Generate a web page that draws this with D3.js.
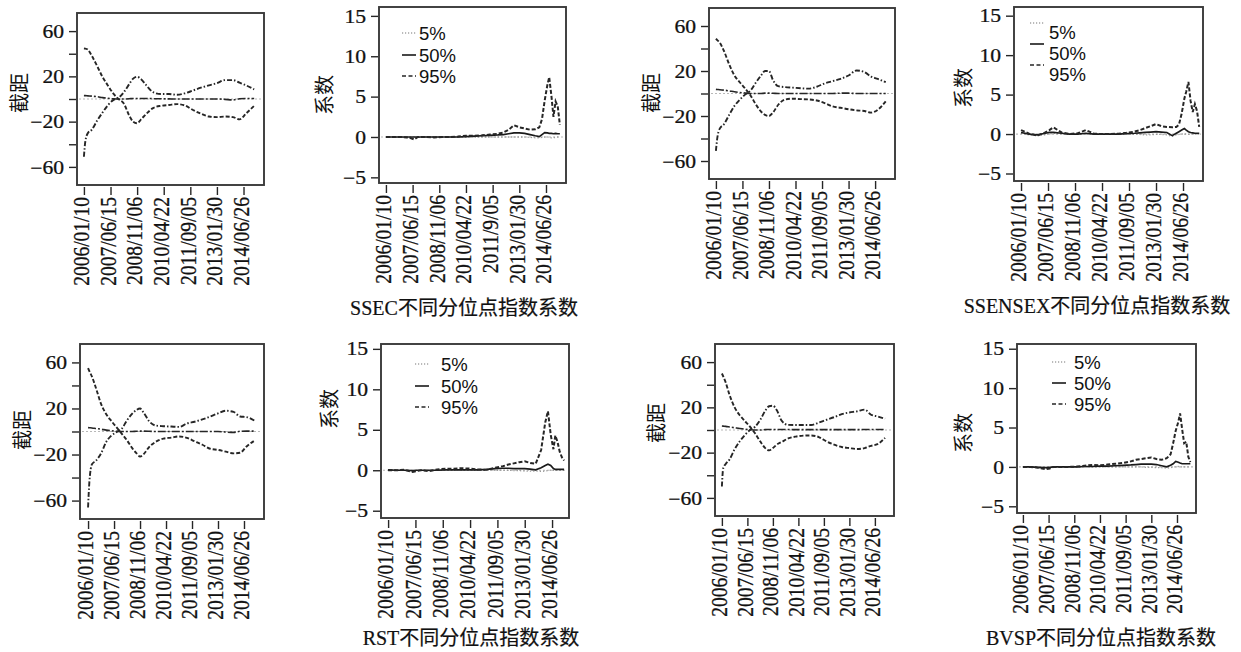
<!DOCTYPE html>
<html><head><meta charset="utf-8">
<script src="https://cdn.jsdelivr.net/npm/d3@7"></script>
<style>body{margin:0;background:#fff}svg{display:block}</style>
</head><body><svg id="c" width="1241" height="652"></svg>
<script>
// ---------- data ----------
const dateLabels = ["2006/01/10","2007/06/15","2008/11/06","2010/04/22","2011/09/05","2013/01/30","2014/06/26"];
const dateLabelsSSEC = ["2006/01/10","2007/06/15","2008/11/06","2010/04/22","2011/9/05","2013/01/30","2014/06/26"];
const interceptTicks = [60, 40, 20, 0, -20, -40, -60];
const interceptTickLabels = {"60":"60","20":"20","-20":"\u221220","-60":"\u221260"};
const coefTicks = [15, 10, 5, 0, -5];
const coefTickLabels = {"15":"15","10":"10","5":"5","0":"0","-5":"\u22125"};
const quantiles = ["5%", "50%", "95%"];
const titles = ["SSEC不同分位点指数系数","SSENSEX不同分位点指数系数","RST不同分位点指数系数","BVSP不同分位点指数系数"];
const yTitleI = "截距", yTitleC = "系数";

// sample positions, in units of the date-tick spacing
const tI = [0,0.05,0.15,0.3,0.5,0.7,0.9,1.1,1.3,1.5,1.7,1.85,2.0,2.15,2.35,2.6,2.9,3.2,3.5,3.8,4.1,4.4,4.7,5.0,5.3,5.6,5.85,6.1,6.4];
const tC = [0,0.3,0.6,0.9,1.05,1.2,1.5,1.8,2.1,2.4,2.7,3.0,3.3,3.6,3.9,4.2,4.4,4.6,4.8,5.0,5.2,5.4,5.6,5.75,5.85,5.95,6.05,6.12,6.2,6.28,6.36,6.44,6.52,6.6];

// intercepts
const ssecI95 = [44.6,44.5,43.5,38,29,19.5,12,5,0,-4,-14.5,-20,-21.4,-18,-13,-8,-6,-5.3,-4.5,-5.8,-9.7,-13,-15.5,-16,-15.5,-16,-18,-12.7,-6];
const ssecI5  = [-51,-38,-30,-27,-19,-12,-5.5,-1,1,6,13,18,19.6,17.5,12,6,4.4,4.4,3.7,5,7.5,10,12,14,16.7,16.7,14.4,12,8.5];
const ssecI50 = [3,3,2.8,2.5,2,1.2,0.6,0.2,0,0,0.2,0.5,0.5,0.5,0.5,0.3,0.2,0.1,0,0,0,0,0,0,-0.3,-0.8,0.2,0.5,0.5];
const sensexI95 = [48.7,47.5,45,38,26,16,10,4.5,-1.5,-9.5,-16,-19,-20,-17,-10,-5.5,-4.6,-5,-5.3,-6.2,-8.5,-11.5,-12.7,-14,-15,-15.6,-17,-14.5,-7];
const sensexI5  = [-51,-40,-31,-27.5,-19,-11,-5.5,-1,2.5,9.5,16,20,20,12,6.5,5.7,5.2,4.7,4.3,6,9,11,13,16,20.5,19,15,13,10];
const sensexI50 = [3.7,3.6,3.4,3,2.3,1.5,0.9,0.4,0,0,0,0.3,0.3,0.2,0,0,0,0,0,0,0,0,0.3,0.3,0,0,0,0,0];
const rstI95 = [55,52.5,47.7,38,24,15,9,3.5,-2,-7.7,-14.5,-18.5,-21.7,-19.4,-13.5,-9,-6.2,-5.3,-4.3,-5.5,-8.5,-11.5,-15,-16,-17.5,-19,-18.5,-13,-8];
const rstI5  = [-66,-44,-28.5,-25.5,-19,-9,-3.5,-0.5,2.5,9.8,15.5,18.5,20,16,9,5.2,4.6,4.3,4,6.9,8.5,10.5,13,15.7,18,17,13,12.5,9.5];
const rstI50 = [3.4,3.3,3.1,2.6,2,1.2,0.6,0.2,0,0,0,0.2,0.3,0.3,0.2,0,0,0,0,0,0,0,0,0,-0.5,-0.8,0.2,0.3,0.3];
const bvspI95 = [49.9,47.5,42,31,20,13,8,2.9,-2.9,-10,-16,-18,-16,-13,-10.5,-7.5,-5.8,-5,-4.8,-6.2,-10,-13,-15,-16,-16.8,-16,-14,-12.5,-7];
const bvspI5  = [-50,-34,-30,-26,-17,-10,-4.5,0,2.9,8.8,17,21,21.5,17.6,8,4.5,4.4,4.4,4.4,6.5,9,11.3,14,15.5,16.5,18,13.5,12,10];
const bvspI50 = [3.5,3.4,3.2,2.7,2,1.3,0.7,0.3,0,0,0.3,0.5,0.5,0.5,0.5,0.4,0.3,0.3,0.3,0.3,0.3,0.3,0.3,0.3,0.3,0.5,0.5,0.5,0.5];

// index coefficients
const ssecC95 = [0,0,0,-0.1,-0.3,0,0,-0.05,0,0,0.05,0.15,0.15,0.2,0.3,0.4,0.55,0.9,1.45,1.2,1.05,0.9,0.95,1.2,2.2,4.5,6.4,7.4,5.2,2.5,4.4,3.8,1.5,null];
const ssecC50 = [0,0,0,0,0,0,0,0,0,0,0,0.05,0.1,0.15,0.2,0.25,0.3,0.4,0.5,0.5,0.45,0.3,0.15,0.05,0.3,0.55,0.5,0.45,0.45,0.4,0.45,0.4,0.4,null];
const ssecC5  = [0,0,-0.05,-0.1,-0.2,-0.05,0,0,0,0,0,0,0,0,0,0,0,0,0,0,0,-0.05,-0.1,-0.1,-0.05,0,0,-0.05,-0.1,-0.1,-0.05,0,0,null];
const sensexC95 = [0.5,0.05,-0.2,0.2,0.5,0.85,0.2,0,0.1,0.5,0.05,0,0,0.05,0.15,0.3,0.5,0.75,1.0,1.27,1.0,0.9,0.85,0.9,1.2,2.6,4.5,5.4,6.6,4.2,2.8,3.8,2.9,0.9];
const sensexC50 = [0.2,0,-0.1,0.1,0.2,0.2,0.1,0,0,0.1,0,0,0,0,0.05,0.1,0.15,0.2,0.25,0.3,0.25,0.2,-0.2,0.1,0.3,0.5,0.7,0.5,0.3,0.2,0.15,0.1,0.1,0.1];
const sensexC5  = [0.1,-0.1,-0.2,-0.1,0,0.1,0,-0.05,0,0,0,0,0,0,0,-0.05,-0.05,-0.1,-0.1,-0.05,-0.05,-0.1,-0.3,-0.1,-0.05,0,0.05,0,-0.05,0,0,0,0,0];
const rstC95 = [0,0,0.05,-0.2,-0.1,0,-0.1,0.1,0.2,0.2,0.25,0.2,0.1,0.05,0.3,0.5,0.7,0.85,1.0,1.1,0.9,0.8,2.5,5.9,7.3,4.4,2.6,4.3,3.5,2.3,1.6,1.2,null,null];
const rstC50 = [0.05,0,0,-0.05,0,0,0,0,0.05,0.05,0.05,0.05,0.05,0.1,0.2,0.25,0.25,0.2,0.2,0.2,0.15,0.05,0.3,0.6,0.75,0.6,0.2,0.1,0.1,0.1,0.1,0.1,null,null];
const rstC5  = [0,0,0,-0.1,-0.1,0,-0.05,0,0,0,0,0,0,0,0,0,0,-0.05,-0.05,-0.1,-0.1,-0.1,-0.15,-0.1,-0.05,0,0,0,0,0,0,0,null,null];
const bvspC95 = [0,0,-0.1,-0.3,-0.2,0,0,0,0.05,0.15,0.25,0.2,0.3,0.4,0.5,0.7,0.9,1.0,1.1,1.2,1.0,0.9,1.1,1.6,3.0,4.6,5.7,6.8,4.8,3.0,3.2,1.3,0.6,null];
const bvspC50 = [0,0,-0.05,-0.1,-0.05,0,0,0,0,0.05,0.05,0.1,0.1,0.15,0.2,0.25,0.3,0.35,0.35,0.35,0.3,0.15,0,0.2,0.4,0.7,0.6,0.5,0.4,0.4,0.4,0.4,0.4,null];
const bvspC5  = [0,0,-0.1,-0.2,-0.1,0,0,0,0,0,0,0,0,0,0,0,0,0,-0.05,-0.05,-0.1,-0.1,-0.15,-0.1,0,0,0.05,0,0,0,0,0,0,null];

// ---------- layout ----------
const panels = [
  {kind:"I", x0:77,  x1:264,  y0:13,  y1:185, xd:[-0.26,6.77], yd:[-76,76], t:tI, s:[ssecI5,ssecI50,ssecI95], labels:dateLabels, yl:[18,93]},
  {kind:"C", x0:379, x1:566,  y0:7,   y1:183, xd:[-0.26,6.75], yd:[-5.7,16.1], t:tC, s:[ssecC5,ssecC50,ssecC95], labels:dateLabelsSSEC, yl:[323,95],
    leg:{sx:402, tx:419, ys:[33,55,76], dy:0}, title:[464,308,0]},
  {kind:"I", x0:709, x1:895,  y0:8,   y1:179, xd:[-0.26,6.75], yd:[-76,76], t:tI, s:[sensexI5,sensexI50,sensexI95], labels:dateLabels, yl:[650,93]},
  {kind:"C", x0:1014,x1:1203, y0:7,   y1:181, xd:[-0.26,6.74], yd:[-5.95,16.1], t:tC, s:[sensexC5,sensexC50,sensexC95], labels:dateLabels, yl:[962,88],
    leg:{sx:1030, tx:1049, ys:[32,53,74], dy:-9}, title:[1097,306,1]},
  {kind:"I", x0:80,  x1:264,  y0:344, y1:519, xd:[-0.31,6.77], yd:[-76,76], t:tI, s:[rstI5,rstI50,rstI95], labels:dateLabels, yl:[21,430]},
  {kind:"C", x0:381, x1:569,  y0:344, y1:518, xd:[-0.26,6.62], yd:[-5.9,15.6], t:tC, s:[rstC5,rstC50,rstC95], labels:dateLabels, yl:[328,409],
    leg:{sx:415, tx:441, ys:[364,386,407], dy:0}, title:[471,638,2]},
  {kind:"I", x0:715, x1:894,  y0:344, y1:516, xd:[-0.27,6.75], yd:[-76,76], t:tI, s:[bvspI5,bvspI50,bvspI95], labels:dateLabels, yl:[655,423]},
  {kind:"C", x0:1017,x1:1196, y0:344, y1:513, xd:[-0.23,6.74], yd:[-5.85,15.6], t:tC, s:[bvspC5,bvspC50,bvspC95], labels:dateLabels, yl:[962,433],
    leg:{sx:1052, tx:1074, ys:[362,383,404], dy:0}, title:[1101,638,3]}
];

const INK = "#262626";
const styleI = [
  {dash:"5,2,1.5,2", w:1.9, c:INK},   // lower-start quantile
  {dash:"8,2,2,2",   w:1.6, c:INK},   // median
  {dash:"4,2",       w:1.9, c:INK}    // upper-start quantile
];
const styleC = [
  {dash:"1.3,2", w:1.3, c:"#9a9a9a"}, // 5%
  {dash:null,    w:1.7, c:"#1a1a1a"}, // 50%
  {dash:"4,2",   w:2.0, c:INK}        // 95%
];

const svg = d3.select("#c");
const serif = "'Liberation Serif','Times New Roman',serif";
const cjk = "'Liberation Serif','Noto Sans CJK SC',serif";

panels.forEach(p => {
  const x = d3.scaleLinear().domain(p.xd).range([p.x0, p.x1]);
  const y = d3.scaleLinear().domain(p.yd).range([p.y1, p.y0]);
  const g = svg.append("g");

  // zero reference
  g.append("line").attr("x1", p.x0 + 2).attr("x2", p.x1 - 2)
    .attr("y1", y(0)).attr("y2", y(0))
    .attr("stroke", "#b8b8b8").attr("stroke-width", 1.2).attr("stroke-dasharray", "2,2");

  // series
  const line = d3.line().defined(d => d[1] != null)
    .x(d => x(d[0])).y(d => y(d[1]))
    .curve(p.kind === "I" ? d3.curveMonotoneX : d3.curveLinear);
  const st = p.kind === "I" ? styleI : styleC;
  p.s.forEach((arr, i) => {
    g.append("path").datum(p.t.map((t, k) => [t, arr[k]]))
      .attr("d", line).attr("fill", "none")
      .attr("stroke", st[i].c).attr("stroke-width", st[i].w)
      .attr("stroke-dasharray", st[i].dash);
  });

  // frame
  g.append("rect").attr("x", p.x0).attr("y", p.y0)
    .attr("width", p.x1 - p.x0).attr("height", p.y1 - p.y0)
    .attr("fill", "none").attr("stroke", "#3a3a3a").attr("stroke-width", 1.9);

  // y axis
  const yTicks = p.kind === "I" ? interceptTicks : coefTicks;
  const yLab = p.kind === "I" ? interceptTickLabels : coefTickLabels;
  const ya = g.append("g").attr("transform", `translate(${p.x0 - 1},0)`)
    .call(d3.axisLeft(y).tickValues(yTicks).tickSize(7).tickFormat(v => yLab[String(v)] || ""));
  ya.select(".domain").remove();
  ya.selectAll(".tick line").attr("stroke", INK).attr("stroke-width", 1.4);
  ya.selectAll(".tick text").attr("x", null).attr("dy", "0.34em")
    .attr("transform", "translate(-12,0) scale(1.2,1)")
    .attr("fill", "#111").attr("stroke", "#111").attr("stroke-width", 0.25)
    .style("font-family", serif).style("font-size", "18px");

  // x axis
  const xa = g.append("g").attr("transform", `translate(0,${p.y1 + 2})`)
    .call(d3.axisBottom(x).tickValues(d3.range(7)).tickSize(8).tickFormat(i => p.labels[i]));
  xa.select(".domain").remove();
  xa.selectAll(".tick line").attr("stroke", INK).attr("stroke-width", 1.4);
  xa.selectAll(".tick text").attr("y", null).attr("dy", "0.3em")
    .attr("transform", "translate(-2,10) scale(1.15,1) rotate(-90)")
    .style("text-anchor", "end").attr("fill", "#111").attr("stroke", "#111").attr("stroke-width", 0.25)
    .style("font-family", serif).style("font-size", "19.5px");

  // y title
  g.append("text").attr("transform", `translate(${p.yl[0]},${p.yl[1]}) rotate(-90)`)
    .attr("text-anchor", "middle").attr("dominant-baseline", "central")
    .style("font-family", "'Noto Sans CJK SC',sans-serif").style("font-size", "20px").attr("fill", "#111")
    .text(p.kind === "I" ? yTitleI : yTitleC);

  // legend
  if (p.leg) {
    quantiles.forEach((q, i) => {
      const ly = p.leg.ys[i] + p.leg.dy;
      g.append("line").attr("x1", p.leg.sx).attr("x2", p.leg.sx + 14)
        .attr("y1", ly).attr("y2", ly)
        .attr("stroke", i === 0 ? "#777" : INK).attr("stroke-width", i === 0 ? 1.2 : 1.7)
        .attr("stroke-dasharray", i === 0 ? "1.2,1.8" : (i === 2 ? "4,2.5" : null));
      g.append("text").attr("x", p.leg.tx).attr("y", p.leg.ys[i]).attr("dy", "0.36em")
        .style("font-family", "'Liberation Sans',Arial,sans-serif").style("font-size", "18.5px")
        .attr("fill", "#111").text(q);
    });
  }

  // caption
  if (p.title) {
    g.append("text").attr("x", p.title[0]).attr("y", p.title[1])
      .attr("text-anchor", "middle").attr("dominant-baseline", "central")
      .style("font-family", cjk).style("font-size", "20px").attr("fill", "#111")
      .attr("stroke", "#111").attr("stroke-width", 0.2)
      .text(titles[p.title[2]]);
  }
});
</script>
</body></html>
